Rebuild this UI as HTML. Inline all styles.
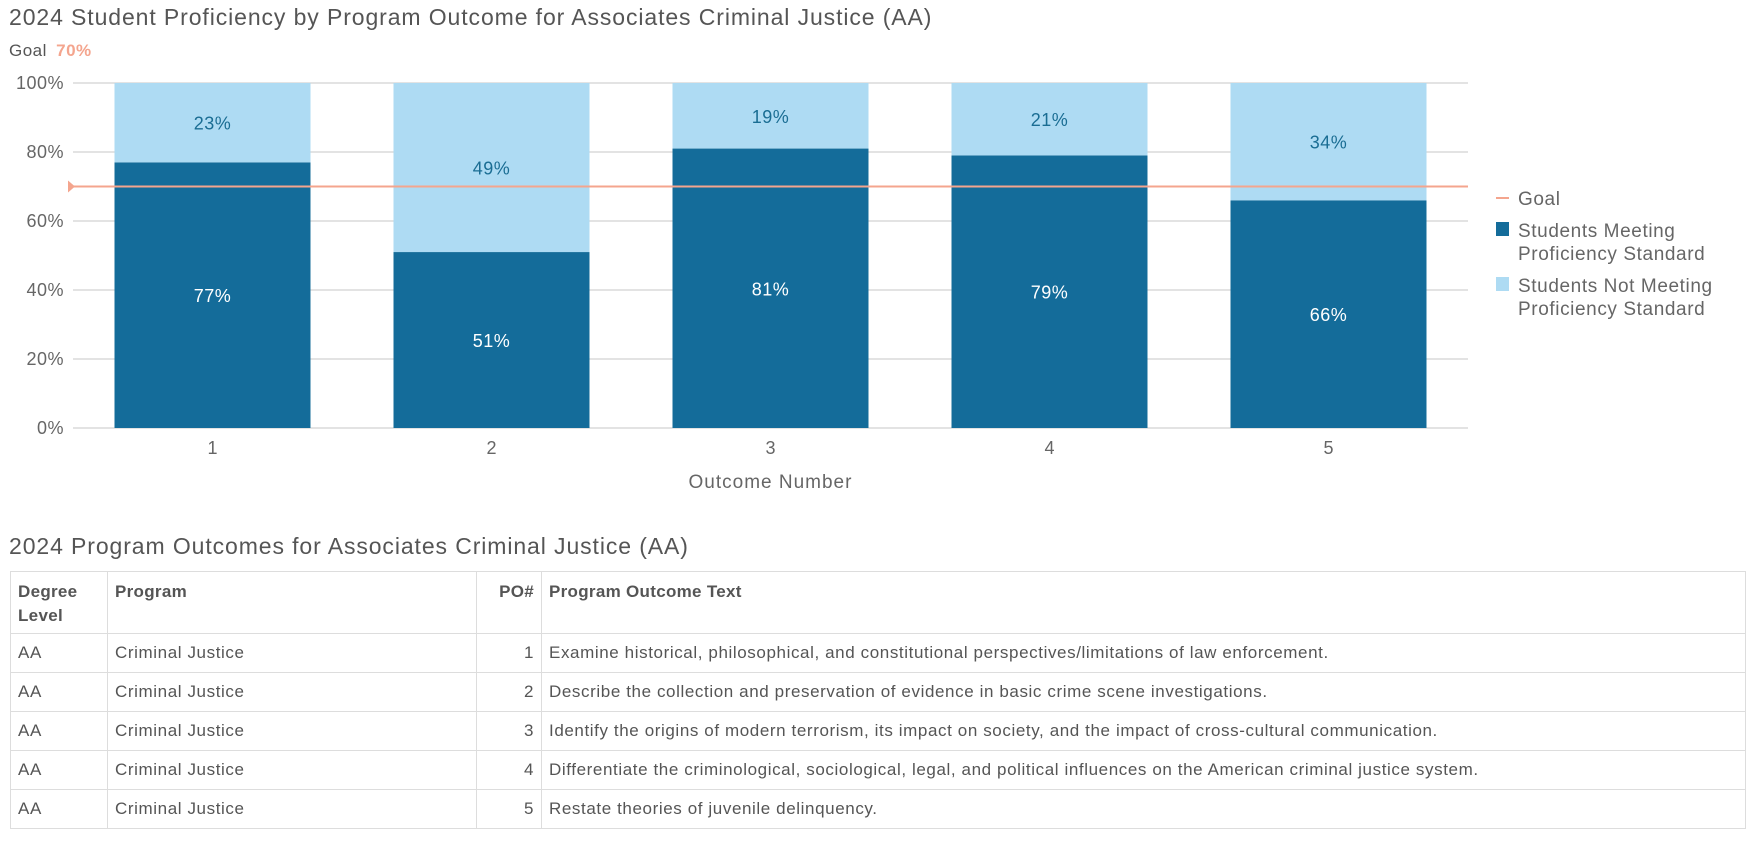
<!DOCTYPE html>
<html><head><meta charset="utf-8"><style>
body{margin:0;width:1757px;height:842px;background:#fff;font-family:"Liberation Sans",sans-serif;color:#555;position:relative;overflow:hidden}
.t{position:absolute;white-space:nowrap}
table{position:absolute;left:10px;top:571px;width:1736px;border-collapse:collapse;font-size:17px;letter-spacing:0.6px;color:#555}
td,th{border:1.5px solid #ddd;padding:0 7px;text-align:left;vertical-align:middle;height:38px}
th{font-weight:bold;color:#555;vertical-align:top;padding-top:8px;height:53px;line-height:24px;letter-spacing:0.3px}
</style></head><body>
<div class="t" style="left:9px;top:4px;font-size:23px;letter-spacing:0.9px;color:#555">2024 Student Proficiency by Program Outcome for Associates Criminal Justice (AA)</div>
<div class="t" style="left:9px;top:41px;font-size:17px;letter-spacing:0.5px">Goal <b style="color:#f4a58e;margin-left:4px">70%</b></div>
<svg id="chart" width="1757" height="540" style="position:absolute;left:0;top:0"></svg>
<div class="t" style="left:9px;top:533px;font-size:23px;letter-spacing:0.9px">2024 Program Outcomes for Associates Criminal Justice (AA)</div>
<table>
<tr><th style="width:82px">Degree<br>Level</th><th style="width:354px">Program</th><th style="width:50px;text-align:right">PO#</th><th>Program Outcome Text</th></tr>
<tr><td>AA</td><td>Criminal Justice</td><td style="text-align:right">1</td><td>Examine historical, philosophical, and constitutional perspectives/limitations of law enforcement.</td></tr>
<tr><td>AA</td><td>Criminal Justice</td><td style="text-align:right">2</td><td>Describe the collection and preservation of evidence in basic crime scene investigations.</td></tr>
<tr><td>AA</td><td>Criminal Justice</td><td style="text-align:right">3</td><td>Identify the origins of modern terrorism, its impact on society, and the impact of cross-cultural communication.</td></tr>
<tr><td>AA</td><td>Criminal Justice</td><td style="text-align:right">4</td><td>Differentiate the criminological, sociological, legal, and political influences on the American criminal justice system.</td></tr>
<tr><td>AA</td><td>Criminal Justice</td><td style="text-align:right">5</td><td>Restate theories of juvenile delinquency.</td></tr>
</table>
<script>
const categories=["1","2","3","4","5"];
const meeting=[77,51,81,79,66];
const notMeeting=[23,49,19,21,34];
const yTicks=[0,20,40,60,80,100];
const goal=70;
const svg=document.getElementById('chart');
const NS='http://www.w3.org/2000/svg';
const L=73,R=1468,T=83,B=428;
const y=v=>B-(B-T)*v/100;
const bw=(R-L)/categories.length;
const x=i=>L+bw*(i+0.5);
function mk(tag,a,txt){const e=document.createElementNS(NS,tag);for(const k in a)e.setAttribute(k,a[k]);if(txt!=null)e.textContent=txt;svg.appendChild(e);return e;}
yTicks.forEach(v=>{
  const g=mk('line',{x1:L,x2:R,y1:y(v),y2:y(v),stroke:'#e3e3e3','stroke-width':2});
  
  
  const t=mk('text',{x:64,y:y(v)+6,'text-anchor':'end','font-size':18,'letter-spacing':0.5,fill:'#666'},v+'%');
  
  
});
categories.forEach((c,i)=>{
  const w=196,x0=x(i)-w/2;
  const a=mk('rect',{x:x0,y:y(meeting[i]),width:w,height:y(0)-y(meeting[i]),fill:'#146c9a'});
  
  
  const b=mk('rect',{x:x0,y:y(meeting[i]+notMeeting[i]),width:w,height:y(meeting[i])-y(meeting[i]+notMeeting[i]),fill:'#aedbf3'});
  
  
  const l1=mk('text',{x:x(i),y:(y(0)+y(meeting[i]))/2+7,'text-anchor':'middle','font-size':18,'letter-spacing':0.5,fill:'#fff'},meeting[i]+'%');
  
  
  const l2=mk('text',{x:x(i),y:(y(meeting[i])+y(meeting[i]+notMeeting[i]))/2+7,'text-anchor':'middle','font-size':18,'letter-spacing':0.5,fill:'#1a6d93'},notMeeting[i]+'%');
  
  
  const xt=mk('text',{x:x(i),y:454,'text-anchor':'middle','font-size':18,fill:'#666'},c);
  
  
});
const gl=mk('line',{x1:L-5,x2:R,y1:y(goal),y2:y(goal),stroke:'#f4a58e','stroke-width':2});


const gm=mk('path',{d:`M${L-5} ${y(goal)-6} L${L+2} ${y(goal)} L${L-5} ${y(goal)+6}Z`,fill:'#f4a58e'});


const xa=mk('text',{x:(L+R)/2,y:488,'text-anchor':'middle','font-size':19,'letter-spacing':1,fill:'#666'},'Outcome Number');


const LS={'font-size':19,'letter-spacing':0.6,fill:'#666'};
function lt(txt,yy){return mk('text',Object.assign({x:1518,y:yy},LS),txt);}
const lg=mk('line',{x1:1496,x2:1509,y1:198,y2:198,stroke:'#f4a58e','stroke-width':2});


const lgt=lt('Goal',205);


const s1=mk('rect',{x:1496,y:222,width:13,height:14,fill:'#146c9a'});


const t1=lt('Students Meeting',237);


lt('Proficiency Standard',260);
const s2=mk('rect',{x:1496,y:277,width:13,height:14,fill:'#aedbf3'});


const t2=lt('Students Not Meeting',292);


lt('Proficiency Standard',315);
</script>
</body></html>
